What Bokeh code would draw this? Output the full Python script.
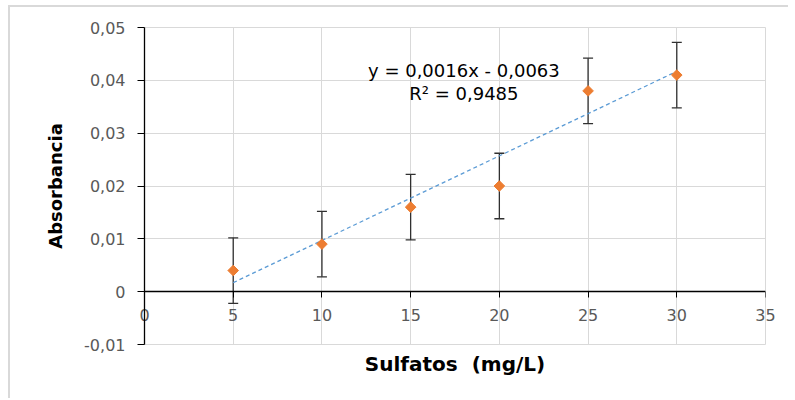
import numpy as np
from bokeh.plotting import figure
from bokeh.models import (ColumnDataSource, Whisker, TeeHead, Label, Title,
                          FixedTicker, CustomJSTickFormatter, Range1d, LinearAxis)
from bokeh.embed import file_html
from bokeh.resources import INLINE

# ---- data ----
sulfatos = [5, 10, 15, 20, 25, 30]
absorbancia = [0.004, 0.009, 0.016, 0.020, 0.038, 0.041]
error = [0.0062, 0.0062, 0.0062, 0.0062, 0.0062, 0.0062]
x_ticks = [0, 5, 10, 15, 20, 25, 30, 35]
x_tick_labels = ["0", "5", "10", "15", "20", "25", "30", "35"]
y_ticks = [-0.01, 0.0, 0.01, 0.02, 0.03, 0.04, 0.05]
slope = 0.0016
intercept = -0.0063
r2 = 0.9485
equation = "y = 0,0016x - 0,0063"
r2_text = "R² = 0,9485"
x_label = "Sulfatos\u00a0\u00a0(mg/L)"
y_label = "Absorbancia"

FONT = "DejaVu Sans"

src = ColumnDataSource(dict(
    x=sulfatos, y=absorbancia,
    upper=[a + e for a, e in zip(absorbancia, error)],
    lower=[a - e for a, e in zip(absorbancia, error)],
))

p = figure(width=780, height=393, output_backend="svg", toolbar_location=None,
           x_range=Range1d(0, 35), y_range=Range1d(-0.01, 0.05),
           min_border_left=134, min_border_right=25, min_border_top=20,
           min_border_bottom=56,
           styles={"border-top": "2px solid #d9d9d9",
                   "border-left": "2px solid #d9d9d9",
                   "margin-top": "5px",
                   "margin-left": "8px"})
p.outline_line_color = "#d9d9d9"
p.outline_line_width = 1

# grid
p.xgrid.ticker = FixedTicker(ticks=x_ticks)
p.ygrid.ticker = FixedTicker(ticks=y_ticks)
for g in (p.xgrid, p.ygrid):
    g.grid_line_color = "#d9d9d9"
    g.grid_line_width = 1

yfmt = CustomJSTickFormatter(code="""
if (Math.abs(tick) < 1e-12) return "0";
return tick.toFixed(2).replace('.', ',');
""")

# y axis
ya = p.yaxis[0]
ya.ticker = FixedTicker(ticks=y_ticks)
ya.formatter = yfmt
ya.axis_line_color = "black"
ya.axis_line_width = 1.3
ya.major_tick_line_color = "black"
ya.major_tick_out = 7
ya.major_tick_in = 0
ya.minor_tick_line_color = None
ya.major_label_text_color = "#595959"
ya.major_label_text_font = FONT
ya.major_label_text_font_size = "16px"
ya.major_label_standoff = 12
ya.axis_label = y_label
ya.axis_label_text_font = FONT
ya.axis_label_text_font_style = "bold"
ya.axis_label_text_font_size = "18px"
ya.axis_label_text_color = "black"
ya.axis_label_standoff = 15

# x axis line + ticks drawn at y = 0
xa = p.xaxis[0]
xa.fixed_location = 0
xa.ticker = FixedTicker(ticks=x_ticks)
xa.axis_line_color = "black"
xa.axis_line_width = 1.3
xa.major_tick_line_color = "black"
xa.major_tick_out = 6
xa.major_tick_in = 0
xa.minor_tick_line_color = None
xa.major_label_text_font_size = "0px"
xa.major_label_text_color = None

# x tick labels: an unclipped axis below the frame, labels pulled up under y = 0
xl = LinearAxis(ticker=FixedTicker(ticks=x_ticks),
                major_label_overrides=dict(zip(x_ticks, x_tick_labels)),
                axis_line_color=None, major_tick_line_color=None,
                minor_tick_line_color=None, major_tick_out=0, major_tick_in=0,
                major_label_standoff=-36, major_label_text_font=FONT,
                major_label_text_font_size="16px",
                major_label_text_color="#595959")
p.add_layout(xl, "below")

xt = Title(text=x_label, align="center", text_font=FONT,
           text_font_style="bold", text_font_size="20px", text_color="black")
p.add_layout(xt, "below")

# trendline
xs_fit = [sulfatos[0], sulfatos[-1]]
ys_fit = [slope * v + intercept for v in xs_fit]
p.line(xs_fit, ys_fit, line_color="#5B9BD5", line_width=1.3, line_dash="4 3")

# error bars
w = Whisker(source=src, base="x", upper="upper", lower="lower",
            line_color="#303030", line_width=1.3,
            upper_head=TeeHead(size=10, line_color="#303030", line_width=1.3),
            lower_head=TeeHead(size=10, line_color="#303030", line_width=1.3))
p.add_layout(w)

# markers
p.scatter("x", "y", source=src, marker="square", angle=np.pi / 4, size=7.5,
          fill_color="#ED7D31", line_color="#ED7D31")

# equation labels
p.add_layout(Label(x=18.0, y=0.0418, text=equation, text_align="center",
                   text_baseline="middle", text_font=FONT,
                   text_font_size="18px", text_color="black"))
p.add_layout(Label(x=18.0, y=0.0375, text=r2_text, text_align="center",
                   text_baseline="middle", text_font=FONT,
                   text_font_size="18px", text_color="black"))

open("out.html", "w").write(file_html(p, INLINE))
